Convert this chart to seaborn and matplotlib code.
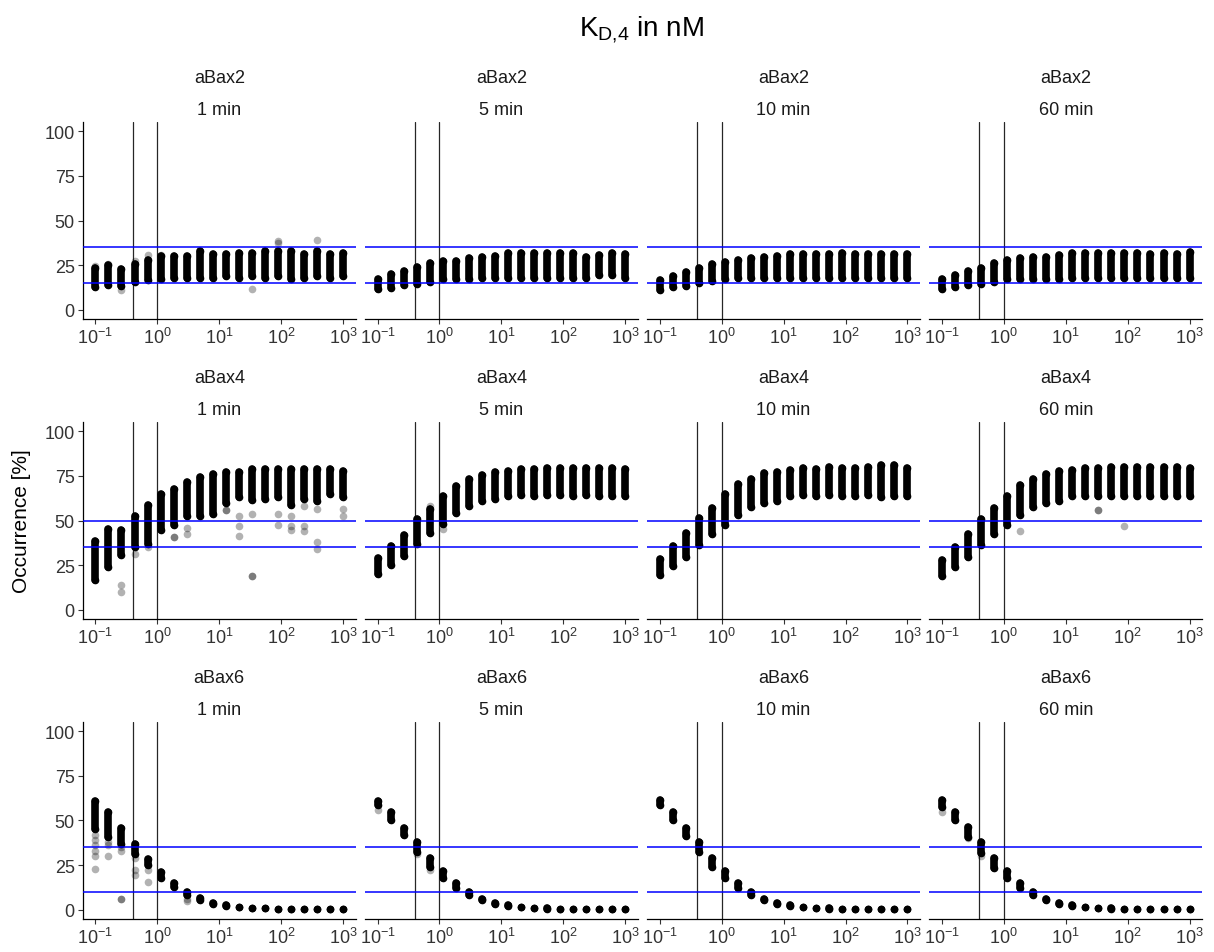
import numpy as np
import pandas as pd
import matplotlib
matplotlib.use("Agg")
import matplotlib.pyplot as plt
import seaborn as sns
from matplotlib.ticker import FixedLocator, LogFormatterMathtext, NullLocator

sns.set_theme(style="ticks")
plt.rcParams['font.family'] = ['Liberation Sans', 'DejaVu Sans']
plt.rcParams['mathtext.fontset'] = 'custom'
plt.rcParams['mathtext.rm'] = 'Liberation Sans'
plt.rcParams['mathtext.it'] = 'Liberation Sans:italic'
plt.rcParams['mathtext.bf'] = 'Liberation Sans:bold'

# ---------------- data ----------------
kd4 = [0.1, 0.16238, 0.26367, 0.42813, 0.69519, 1.12884, 1.83298, 2.97635, 4.83293, 7.84760,
       12.7427, 20.6914, 33.5982, 54.5559, 88.5867, 143.845, 233.572, 379.269, 615.848, 1000.0]

constructs = ["aBax2", "aBax4", "aBax6"]
times = ["1 min", "5 min", "10 min", "60 min"]
vlines_at = [0.4, 1.0]
hlines_bax2 = [15, 35]
hlines_bax4 = [35, 50]
hlines_bax6 = [10, 35]

# aBax2
b2_1_lo = [12.7, 13.6, 13.0, 15.5, 16.4, 17.3, 18.0, 18.0, 18.0, 18.0, 19.0, 18.0, 19.0, 18.0, 19.0, 17.3, 18.0, 19.0, 18.0, 19.0]
b2_1_hi = [23.6, 25.0, 22.7, 25.5, 28.0, 30.0, 30.0, 30.0, 33.0, 31.0, 31.0, 32.0, 31.6, 33.0, 33.0, 33.0, 31.0, 33.0, 31.0, 32.0]
b2_1_ex = [(0, 24.5), (1, 25.5), (2, 11.0), (3, 27.5), (4, 30.5), (5, 30.5), (12, 11.6), (14, 37.5), (14, 38.5), (17, 39.0)]
b2_5_lo = [11.4, 12.0, 13.6, 14.5, 15.8, 17.3, 17.3, 17.3, 17.7, 17.7, 17.7, 17.7, 17.7, 17.7, 17.7, 17.7, 17.7, 19.2, 19.2, 17.7]
b2_5_hi = [17.0, 20.0, 21.7, 24.0, 26.0, 27.3, 27.3, 28.7, 29.8, 30.0, 31.6, 32.0, 31.6, 31.6, 32.0, 32.0, 29.8, 30.5, 32.0, 31.0]
b2_5_ex = []
b2_10_lo = [11.0, 12.5, 13.5, 15.0, 16.0, 17.0, 17.5, 17.5, 17.5, 17.5, 17.5, 17.5, 17.5, 17.5, 17.5, 17.5, 17.5, 17.5, 17.5, 17.5]
b2_10_hi = [16.5, 19.0, 21.0, 23.5, 25.5, 27.0, 28.0, 29.0, 29.5, 30.0, 31.0, 31.5, 31.5, 31.5, 32.0, 31.5, 31.5, 31.5, 31.0, 31.0]
b2_10_ex = []
b2_60_lo = [11.4, 12.7, 14.0, 14.5, 15.8, 17.3, 17.3, 17.3, 17.3, 17.3, 17.7, 17.7, 17.7, 17.7, 17.7, 17.7, 17.7, 17.7, 17.7, 17.7]
b2_60_hi = [17.0, 19.3, 21.7, 23.6, 26.0, 28.0, 29.2, 29.8, 29.8, 30.5, 31.6, 32.0, 31.6, 32.0, 32.0, 32.0, 31.0, 31.6, 31.0, 32.4]
b2_60_ex = []

# aBax4
b4_1_lo = [16.4, 24.0, 30.4, 35.0, 37.0, 44.4, 47.2, 52.8, 52.8, 53.8, 60.0, 63.0, 61.3, 62.0, 63.0, 58.5, 62.0, 61.0, 65.0, 63.0]
b4_1_hi = [38.6, 45.5, 44.7, 52.6, 58.6, 64.7, 67.5, 71.6, 74.6, 76.0, 77.3, 77.3, 78.7, 78.7, 79.0, 79.0, 79.0, 78.7, 78.7, 77.8]
b4_1_ex = [(2, 13.8), (2, 9.7), (3, 31.2), (4, 35.0), (6, 40.6), (6, 40.6), (7, 42.4), (7, 46.0), (10, 56.0), (10, 56.0),
           (11, 52.7), (11, 46.7), (11, 41.1), (12, 53.6), (12, 19.0), (12, 19.0), (14, 53.6), (14, 47.5), (15, 52.7),
           (15, 47.0), (15, 44.9), (16, 58.3), (16, 47.0), (16, 44.3), (17, 56.4), (17, 37.8), (17, 34.0), (19, 56.4), (19, 52.7)]
b4_5_lo = [20.0, 25.0, 30.0, 37.0, 43.0, 48.0, 54.0, 58.0, 61.0, 62.0, 64.0, 64.5, 64.0, 64.5, 64.5, 64.0, 64.5, 64.0, 64.0, 64.0]
b4_5_hi = [29.0, 35.5, 42.0, 51.0, 56.5, 64.0, 69.5, 73.0, 75.5, 77.0, 78.0, 79.0, 79.0, 79.5, 79.5, 79.5, 79.5, 79.5, 79.5, 79.0]
b4_5_ex = [(4, 58.0), (5, 45.0)]
b4_10_lo = [19.2, 24.4, 29.5, 36.4, 42.5, 47.2, 53.2, 57.5, 60.0, 60.7, 64.0, 64.4, 63.7, 64.4, 64.0, 64.0, 64.4, 63.0, 63.9, 64.0]
b4_10_hi = [28.6, 35.7, 42.9, 51.6, 57.2, 64.7, 70.3, 73.0, 76.5, 77.2, 78.3, 79.6, 79.0, 80.2, 79.6, 79.6, 80.2, 81.0, 81.0, 79.6]
b4_10_ex = []
b4_60_lo = [19.0, 24.0, 29.5, 36.0, 42.5, 47.5, 53.0, 57.5, 60.0, 61.0, 63.5, 64.0, 64.0, 64.0, 64.0, 64.0, 64.0, 64.0, 64.0, 64.0]
b4_60_hi = [28.0, 35.0, 42.5, 51.0, 57.0, 64.0, 70.0, 73.5, 76.0, 77.5, 78.5, 79.5, 79.5, 80.0, 80.0, 80.0, 80.0, 80.0, 80.0, 79.5]
b4_60_ex = [(6, 44.0), (12, 56.0), (12, 56.0), (14, 47.0)]

# aBax6
b6_1_lo = [45.0, 40.5, 37.0, 31.3, 24.8, 17.5, 12.5, 8.5, 5.5, 3.3, 2.0, 1.3, 0.9, 0.7, 0.5, 0.4, 0.3, 0.3, 0.3, 0.3]
b6_1_hi = [61.0, 54.5, 46.0, 36.7, 28.3, 21.0, 15.0, 10.0, 6.5, 4.0, 2.4, 1.6, 1.1, 0.8, 0.6, 0.5, 0.4, 0.4, 0.4, 0.4]
b6_1_ex = [(0, 42.0), (0, 39.0), (0, 36.0), (0, 33.0), (0, 30.0), (0, 22.8), (1, 38.0), (1, 36.0), (1, 30.0),
           (2, 35.0), (2, 33.0), (2, 6.0), (2, 6.0), (3, 29.0), (3, 22.0), (3, 19.5), (4, 22.0), (4, 15.5), (7, 6.0), (7, 5.0)]
b6_5_lo = [58.5, 50.5, 41.6, 32.6, 24.0, 17.7, 12.0, 8.5, 5.5, 3.3, 2.0, 1.3, 0.8, 0.6, 0.5, 0.4, 0.3, 0.3, 0.3, 0.3]
b6_5_hi = [61.0, 54.5, 46.0, 38.0, 29.2, 21.7, 15.0, 10.0, 6.0, 4.0, 2.4, 1.6, 1.0, 0.8, 0.6, 0.5, 0.4, 0.4, 0.4, 0.4]
b6_5_ex = [(0, 56.0), (3, 31.0), (4, 22.5)]
b6_10_lo = [58.5, 50.5, 41.5, 32.5, 24.0, 17.5, 12.0, 8.5, 5.5, 3.3, 2.0, 1.3, 0.8, 0.6, 0.5, 0.4, 0.3, 0.3, 0.3, 0.3]
b6_10_hi = [61.5, 54.5, 46.0, 38.0, 29.0, 21.5, 15.0, 10.0, 6.0, 4.0, 2.4, 1.6, 1.0, 0.8, 0.6, 0.5, 0.4, 0.4, 0.4, 0.4]
b6_10_ex = []
b6_60_lo = [57.5, 50.0, 41.0, 31.5, 23.5, 17.5, 12.0, 8.5, 5.5, 3.3, 2.0, 1.3, 0.8, 0.6, 0.5, 0.4, 0.3, 0.3, 0.3, 0.3]
b6_60_hi = [61.5, 54.5, 46.5, 38.0, 29.0, 21.5, 15.0, 10.0, 6.0, 4.0, 2.4, 1.6, 1.0, 0.8, 0.6, 0.5, 0.4, 0.4, 0.4, 0.4]
b6_60_ex = [(0, 55.0), (2, 40.0), (3, 30.0)]

panels = [
    [(b2_1_lo, b2_1_hi, b2_1_ex), (b2_5_lo, b2_5_hi, b2_5_ex), (b2_10_lo, b2_10_hi, b2_10_ex), (b2_60_lo, b2_60_hi, b2_60_ex)],
    [(b4_1_lo, b4_1_hi, b4_1_ex), (b4_5_lo, b4_5_hi, b4_5_ex), (b4_10_lo, b4_10_hi, b4_10_ex), (b4_60_lo, b4_60_hi, b4_60_ex)],
    [(b6_1_lo, b6_1_hi, b6_1_ex), (b6_5_lo, b6_5_hi, b6_5_ex), (b6_10_lo, b6_10_hi, b6_10_ex), (b6_60_lo, b6_60_hi, b6_60_ex)],
]
hlines = [hlines_bax2, hlines_bax4, hlines_bax6]

# ---------------- figure ----------------
W, H = 1214, 953
fig, axes = plt.subplots(3, 4, figsize=(W / 100, H / 100), dpi=100,
                         gridspec_kw=dict(left=83 / W, right=1202 / W, top=1 - 123.4 / H, bottom=1 - 919.6 / H,
                                          wspace=0.035, hspace=0.529))

tick_col = "#333333"
mk_pt = 5.5  # marker diameter in points

for r in range(3):
    for c in range(4):
        ax = axes[r, c]
        lo, hi, ex = panels[r][c]
        df = pd.DataFrame({"kd": kd4, "lo": lo, "hi": hi})
        ax.set_xscale("log")
        # dense columns of simulation points
        lc = ax.vlines(df["kd"], df["lo"], df["hi"], colors="black", linewidth=mk_pt, alpha=1.0, zorder=2)
        lc.set_capstyle("round")
        ends = pd.concat([df[["kd", "lo"]].rename(columns={"lo": "occ"}),
                          df[["kd", "hi"]].rename(columns={"hi": "occ"})])
        sns.scatterplot(data=ends, x="kd", y="occ", ax=ax, color="black", s=mk_pt ** 2,
                        linewidth=0, alpha=1.0, legend=False, zorder=2)
        if ex:
            exdf = pd.DataFrame({"kd": [kd4[i] for i, _ in ex], "occ": [v for _, v in ex]})
            sns.scatterplot(data=exdf, x="kd", y="occ", ax=ax, color="black", s=mk_pt ** 2,
                            linewidth=0, alpha=0.3, legend=False, zorder=2)
        for v in vlines_at:
            ax.axvline(v, color="black", linewidth=0.9, alpha=0.85, zorder=3)
        for h in hlines[r]:
            ax.axhline(h, color="#0000ff", linewidth=1.1, zorder=3)

        ax.set_xlim(10 ** -1.2, 10 ** 3.2)
        ax.set_ylim(-5, 105)
        ax.xaxis.set_major_locator(FixedLocator([0.1, 1, 10, 100, 1000]))
        ax.xaxis.set_major_formatter(LogFormatterMathtext())
        ax.xaxis.set_minor_locator(NullLocator())
        ax.set_yticks([0, 25, 50, 75, 100])
        if c == 0:
            ax.set_yticklabels(["0", "25", "50", "75", "100"])
        else:
            ax.set_yticklabels([])
            ax.tick_params(axis="y", left=False)
        ax.set_xlabel("")
        ax.set_ylabel("")
        sns.despine(ax=ax)
        for sp in ["left", "bottom"]:
            ax.spines[sp].set_color("black")
            ax.spines[sp].set_linewidth(0.9)
        if c != 0:
            ax.spines["left"].set_visible(False)
        ax.tick_params(axis="both", which="major", length=3.5, width=0.8, color=tick_col,
                       labelcolor=tick_col, labelsize=13, pad=2.5)
        ax.text(0.5, 1.2074, constructs[r], transform=ax.transAxes, ha="center", va="baseline",
                fontsize=13, color="#1a1a1a")
        ax.text(0.5, 1.0428, times[c], transform=ax.transAxes, ha="center", va="baseline",
                fontsize=13, color="#1a1a1a")

fig.text(0.528, 1 - 36 / H, r"$\mathrm{K}_{\mathrm{D{,}4}}$ in nM", ha="center", va="baseline", fontsize=20, color="black")
fig.text(22 / W, 1 - 521.5 / H, "Occurrence [%]", rotation=90, ha="center", va="center", fontsize=15, color="black")

fig.savefig("out.png", dpi=100)
